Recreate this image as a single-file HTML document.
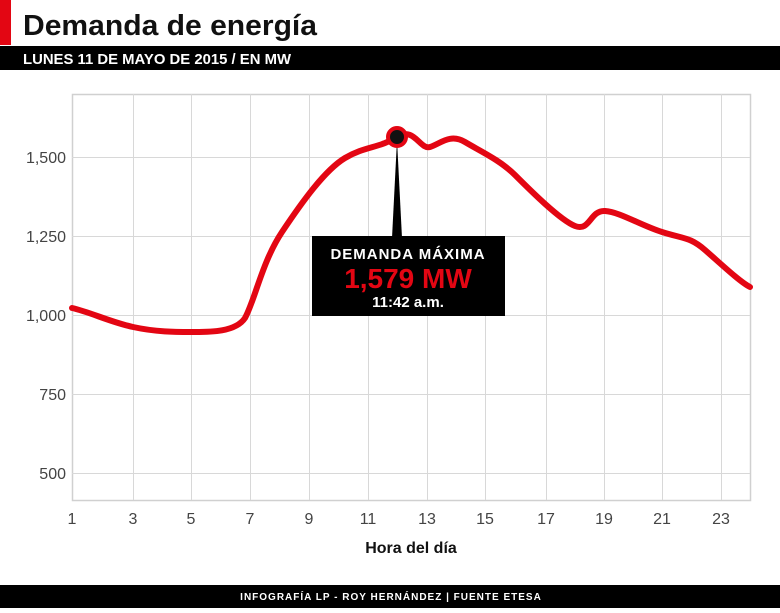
<!DOCTYPE html>
<html><head><meta charset="utf-8"><style>
body{margin:0;background:#fff;width:780px;height:608px;overflow:hidden;font-family:"Liberation Sans",sans-serif}
</style></head><body>
<svg width="780" height="608" xmlns="http://www.w3.org/2000/svg" font-family="Liberation Sans, sans-serif">
<rect x="0" y="0" width="11" height="45" fill="#e30613"/>
<text x="23" y="35" font-size="29" font-weight="bold" fill="#111" transform="scale(1,1)" textLength="294" lengthAdjust="spacingAndGlyphs">Demanda de energía</text>
<rect x="0" y="46" width="780" height="24" fill="#000"/>
<text x="23" y="64" font-size="15" font-weight="bold" fill="#fff" textLength="268" lengthAdjust="spacingAndGlyphs">LUNES 11 DE MAYO DE 2015 / EN MW</text>
<g stroke="#d8d8d8" stroke-width="1" fill="none">
<rect x="72.5" y="94.5" width="678" height="406" stroke="#d0d0d0" stroke-width="1.5"/>
<path d="M133.5 94V500M191.5 94V500M250.5 94V500M309.5 94V500M368.5 94V500M427.5 94V500M485.5 94V500M546.5 94V500M604.5 94V500M662.5 94V500M721.5 94V500"/>
<path d="M72 157.5H750M72 236.5H750M72 315.5H750M72 394.5H750M72 473.5H750"/>
</g>
<g font-size="16" fill="#444" text-anchor="end">
<text x="66" y="163">1,500</text><text x="66" y="242">1,250</text><text x="66" y="321">1,000</text><text x="66" y="400">750</text><text x="66" y="479">500</text>
</g>
<g font-size="16" fill="#444" text-anchor="middle">
<text x="72" y="524">1</text><text x="133" y="524">3</text><text x="191" y="524">5</text><text x="250" y="524">7</text><text x="309" y="524">9</text><text x="368" y="524">11</text><text x="427" y="524">13</text><text x="485" y="524">15</text><text x="546" y="524">17</text><text x="604" y="524">19</text><text x="662" y="524">21</text><text x="721" y="524">23</text>
</g>
<text x="411" y="553" font-size="16" font-weight="bold" text-anchor="middle" fill="#111">Hora del día</text>
<path d="M72 308 C90 312,110 322,133 327 S175 332,191 332 S235 333,245 318 C255 300,262 262,282 232 S325 170,345 158 S380 148,397 137 S420 150,430 147 S450 133,465 142 S500 160,515 175 S560 220,575 226 S590 210,605 211 S640 225,662 232 S690 237,705 250 S740 282,750 287" fill="none" stroke="#e30613" stroke-width="6" stroke-linecap="round"/>
<polygon points="397,140 392,238 402,238" fill="#000"/>
<circle cx="397" cy="137" r="9" fill="#111" stroke="#e30613" stroke-width="4"/>
<rect x="312" y="236" width="193" height="80" fill="#000"/>
<text x="408" y="259" font-size="15" font-weight="bold" fill="#fff" text-anchor="middle" letter-spacing="1">DEMANDA MÁXIMA</text>
<text x="408" y="288" font-size="28" font-weight="bold" fill="#e30613" text-anchor="middle">1,579 MW</text>
<text x="408" y="307" font-size="15" font-weight="bold" fill="#fff" text-anchor="middle">11:42 a.m.</text>
<rect x="0" y="585" width="780" height="23" fill="#000"/>
<text x="391" y="600" font-size="10" font-weight="bold" fill="#fff" text-anchor="middle" letter-spacing="1">INFOGRAFÍA LP - ROY HERNÁNDEZ | FUENTE ETESA</text>
</svg>
</body></html>
